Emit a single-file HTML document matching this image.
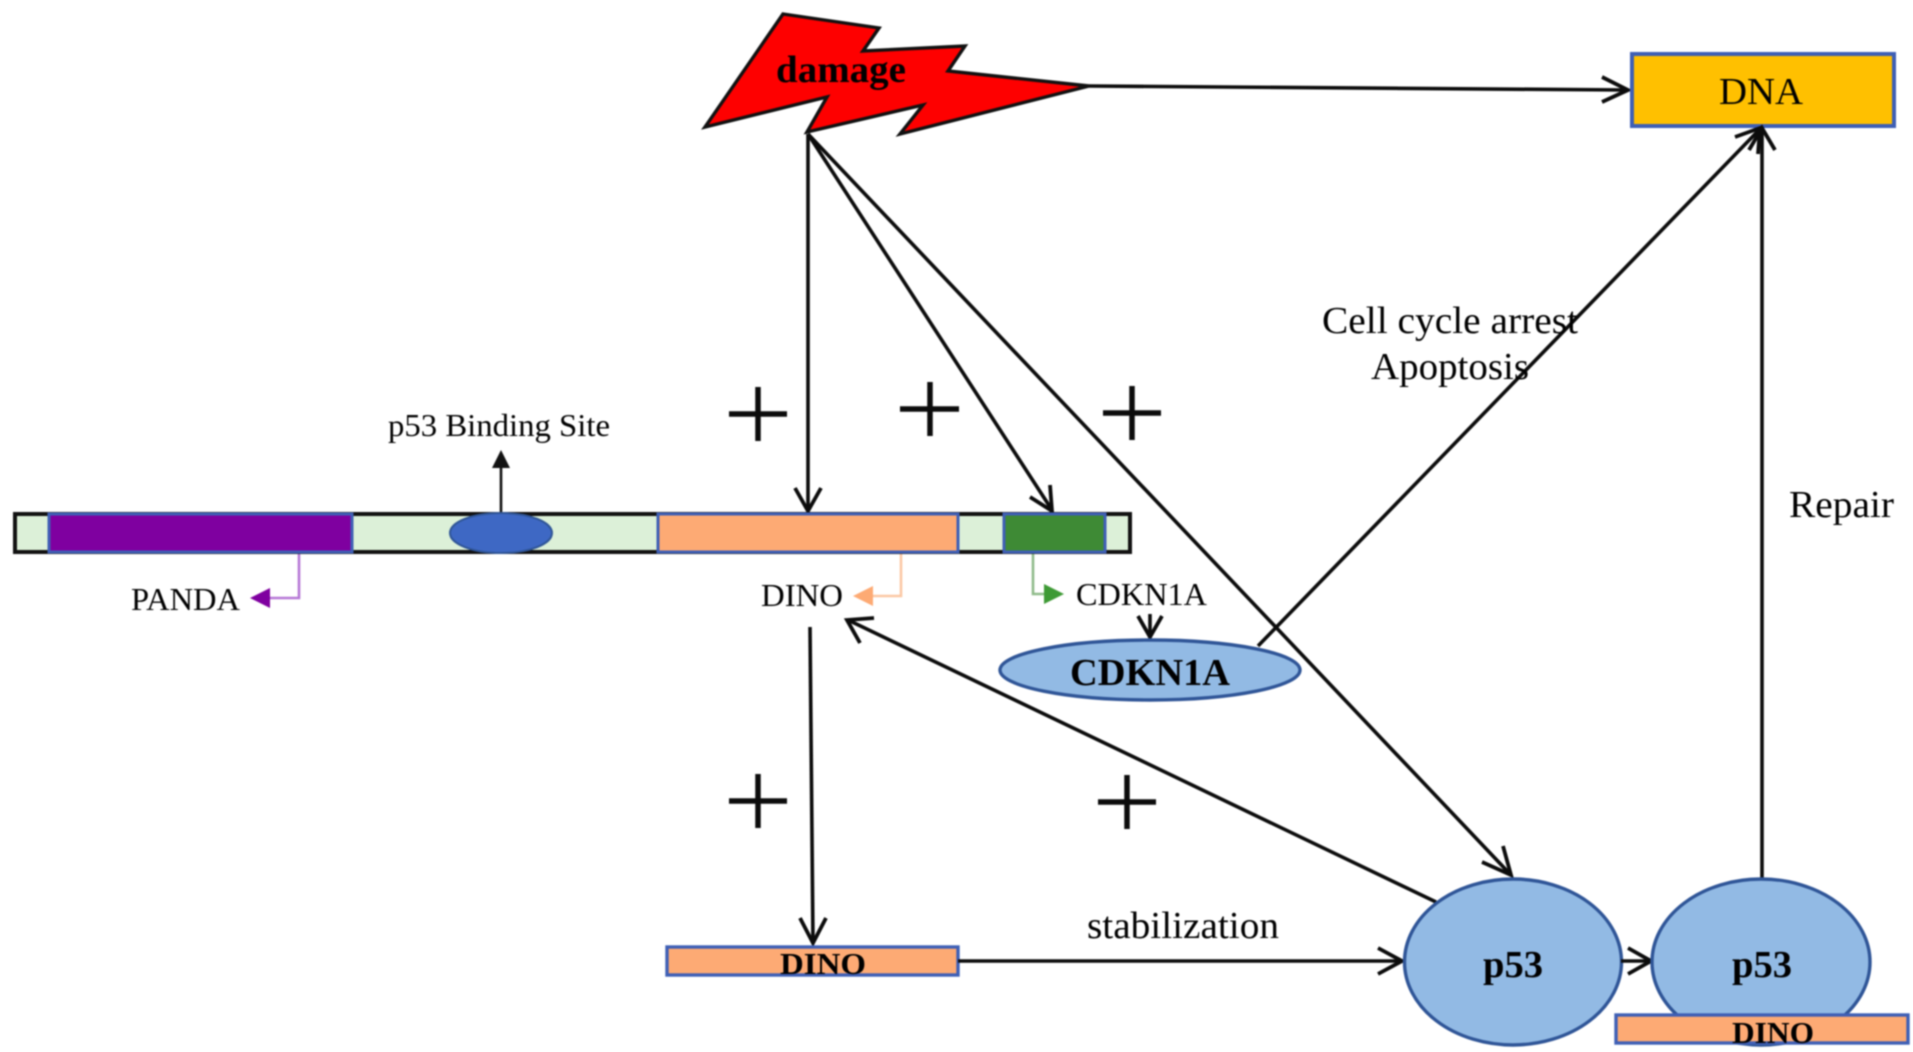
<!DOCTYPE html>
<html><head><meta charset="utf-8"><style>
html,body{margin:0;padding:0;background:#fff;width:1913px;height:1052px;overflow:hidden}
svg{display:block;filter:blur(.7px)}
text{font-family:"Liberation Serif",serif;fill:#000}
.b{font-weight:bold;fill:#000}
.l{stroke:#0c0c0c;stroke-width:3.6;fill:none}
.h{stroke:#0c0c0c;stroke-width:3.8;fill:none;stroke-linejoin:miter}
</style></head><body>
<svg width="1913" height="1052" viewBox="0 0 1913 1052" xmlns="http://www.w3.org/2000/svg">
<rect width="1913" height="1052" fill="#fff"/>
<!-- bolt -->
<polygon points="783,14 879,28 863,51 965,46 948,71 1089,86 900,134 923,105 807,132 827,97 705,127" fill="#fe0000" stroke="#111" stroke-width="3.4" stroke-linejoin="miter"/>
<text class="b" x="776" y="82" font-size="38" textLength="130" lengthAdjust="spacingAndGlyphs">damage</text>
<!-- damage to DNA -->
<path class="l" d="M1089,86L1626,90"/><path class="h" d="M1602,77L1628,90L1602,102"/>
<rect x="1632" y="54" width="262" height="72" fill="#ffc000" stroke="#3f5fb5" stroke-width="4"/>
<text x="1719" y="104" font-size="38" textLength="84" lengthAdjust="spacingAndGlyphs">DNA</text>
<!-- damage arrows -->
<path class="l" d="M808,134L808,510"/><path class="h" d="M795,488L808,511L821,488"/>
<path class="l" d="M808,134L1052,510"/><path class="h" d="M1030,497L1052,511L1050,485"/>
<path class="l" d="M808,134L1510,874"/><path class="h" d="M1482,862L1511,875L1503,846"/>
<!-- p53 binding arrow -->
<path d="M501,513V462" stroke="#111" stroke-width="2.6" fill="none"/>
<polygon points="501,450 492,468 510,468" fill="#111"/>
<text x="388" y="436" font-size="32" textLength="222" lengthAdjust="spacingAndGlyphs">p53 Binding Site</text>
<!-- bar -->
<rect x="15" y="514" width="1115" height="38" fill="#dcf0d8" stroke="#111" stroke-width="4"/>
<rect x="49" y="514" width="303" height="38" fill="#7f00a0" stroke="#3f5fb5" stroke-width="3"/>
<rect x="658" y="514" width="300" height="38" fill="#fdaa74" stroke="#3f5fb5" stroke-width="3"/>
<rect x="1004" y="514" width="101" height="38" fill="#3e8a35" stroke="#3f5fb5" stroke-width="3"/>
<ellipse cx="501" cy="533" rx="51" ry="20" fill="#3e68c4" stroke="#2f5597" stroke-width="2"/>
<!-- branch lines -->
<path d="M299,554V598H262" stroke="#b678d6" stroke-width="2.6" fill="none"/>
<polygon points="250,598 270,588 270,608" fill="#7f00a0"/>
<text x="131" y="610" font-size="32" textLength="109" lengthAdjust="spacingAndGlyphs">PANDA</text>
<path d="M901,554V596H866" stroke="#fbc8a4" stroke-width="2.6" fill="none"/>
<polygon points="853,596 873,586 873,606" fill="#fdaa74"/>
<text x="761" y="606" font-size="32" textLength="82" lengthAdjust="spacingAndGlyphs">DINO</text>
<path d="M1033,554V594H1048" stroke="#8fbb8a" stroke-width="2.6" fill="none"/>
<polygon points="1064,594 1044,584 1044,604" fill="#3e9a35"/>
<text x="1076" y="605" font-size="32" textLength="131" lengthAdjust="spacingAndGlyphs">CDKN1A</text>
<!-- CDKN1A -->
<path class="l" d="M1150,614V638"/><path class="h" d="M1138,616L1150,637L1162,616"/>
<ellipse cx="1150" cy="670" rx="150" ry="30" fill="#92bae4" stroke="#2f5597" stroke-width="3.4"/>
<text class="b" x="1070" y="685" font-size="38" textLength="160" lengthAdjust="spacingAndGlyphs">CDKN1A</text>
<!-- CDKN1A to DNA -->
<path class="l" d="M1258,646L1759,130"/><path class="h" d="M1735,137L1760,128L1758,154"/>
<!-- Repair -->
<path class="l" d="M1762,878V130"/><path class="h" d="M1749,150L1762,128L1775,150"/>
<!-- labels -->
<text x="1322" y="333" font-size="38" textLength="256" lengthAdjust="spacingAndGlyphs">Cell cycle arrest</text>
<text x="1371" y="379" font-size="38" textLength="158" lengthAdjust="spacingAndGlyphs">Apoptosis</text>
<text x="1789" y="517" font-size="38" textLength="105" lengthAdjust="spacingAndGlyphs">Repair</text>
<text x="1087" y="938" font-size="38" textLength="192" lengthAdjust="spacingAndGlyphs">stabilization</text>
<!-- DINO down -->
<path class="l" d="M810,627L813,942"/><path class="h" d="M800,918L813,943L826,918"/>
<rect x="667" y="947" width="291" height="28" fill="#fdaa74" stroke="#3f5fb5" stroke-width="3.4"/>
<text class="b" x="780" y="974" font-size="31" textLength="86" lengthAdjust="spacingAndGlyphs">DINO</text>
<path class="l" d="M958,961H1400"/><path class="h" d="M1378,948L1402,961L1378,974"/>
<!-- p53 to DINO -->
<path class="l" d="M1436,902L848,620"/><path class="h" d="M874,618L847,620L860,643"/>
<!-- p53 circles -->
<ellipse cx="1513" cy="962" rx="108.5" ry="83" fill="#92bae4" stroke="#2f5597" stroke-width="3.4"/>
<text class="b" x="1483" y="977" font-size="38" textLength="60" lengthAdjust="spacingAndGlyphs">p53</text>
<path class="l" d="M1621,961H1650"/><path class="h" d="M1628,948L1651,961L1628,974"/>
<ellipse cx="1761" cy="962" rx="109" ry="83" fill="#92bae4" stroke="#2f5597" stroke-width="3.4"/>
<text class="b" x="1732" y="977" font-size="38" textLength="60" lengthAdjust="spacingAndGlyphs">p53</text>
<rect x="1616" y="1015" width="292" height="28" fill="#fdaa74" stroke="#3f5fb5" stroke-width="3.4"/>
<text class="b" x="1732" y="1043" font-size="31" textLength="82" lengthAdjust="spacingAndGlyphs">DINO</text>
<!-- plus signs -->
<path d="M729,414H787M758,387V441M900,409H959M930,382V436M1103,413H1161M1132,386V440M729,801H787M758,774V828M1098,802H1156M1127,775V829" stroke="#0c0c0c" stroke-width="5.5" fill="none"/>
</svg>
</body></html>
